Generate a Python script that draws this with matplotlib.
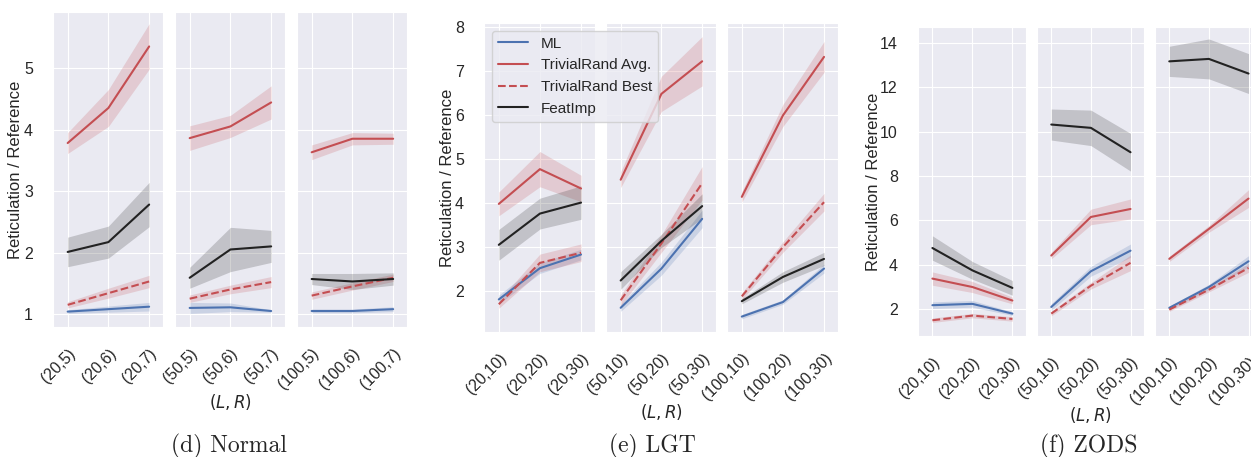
import matplotlib
matplotlib.use("Agg")
import matplotlib.pyplot as plt
import seaborn as sns

# x categories per panel, (L,R)
normal_ticks = [["(20,5)", "(20,6)", "(20,7)"],
                ["(50,5)", "(50,6)", "(50,7)"],
                ["(100,5)", "(100,6)", "(100,7)"]]
lgt_ticks = [["(20,10)", "(20,20)", "(20,30)"],
             ["(50,10)", "(50,20)", "(50,30)"],
             ["(100,10)", "(100,20)", "(100,30)"]]
zods_ticks = lgt_ticks

# Normal
normal_ml = [[1.04, 1.08, 1.12], [1.10, 1.11, 1.05], [1.05, 1.05, 1.08]]
normal_ml_err = [[0.03, 0.05, 0.07], [0.09, 0.07, 0.02], [0.03, 0.03, 0.04]]
normal_avg = [[3.78, 4.35, 5.35], [3.86, 4.05, 4.44], [3.63, 3.85, 3.85]]
normal_avg_err = [[0.17, 0.30, 0.37], [0.20, 0.18, 0.27], [0.12, 0.10, 0.09]]
normal_best = [[1.15, 1.34, 1.53], [1.25, 1.40, 1.52], [1.30, 1.45, 1.59]]
normal_best_err = [[0.05, 0.08, 0.10], [0.06, 0.07, 0.09], [0.06, 0.06, 0.06]]
normal_feat = [[2.01, 2.17, 2.78], [1.59, 2.05, 2.10], [1.57, 1.53, 1.57]]
normal_feat_err = [[0.24, 0.26, 0.36], [0.17, 0.36, 0.26], [0.09, 0.13, 0.10]]

# LGT
lgt_ml = [[1.81, 2.52, 2.83], [1.62, 2.51, 3.64], [1.42, 1.75, 2.51]]
lgt_ml_err = [[0.10, 0.12, 0.12], [0.08, 0.15, 0.20], [0.05, 0.05, 0.10]]
lgt_avg = [[3.98, 4.77, 4.33], [4.53, 6.48, 7.22], [4.14, 5.99, 7.32]]
lgt_avg_err = [[0.27, 0.40, 0.30], [0.18, 0.40, 0.56], [0.12, 0.25, 0.35]]
lgt_best = [[1.70, 2.64, 2.87], [1.79, 3.08, 4.45], [1.88, 3.00, 4.02]]
lgt_best_err = [[0.09, 0.20, 0.20], [0.12, 0.20, 0.38], [0.08, 0.12, 0.20]]
lgt_feat = [[3.05, 3.76, 4.01], [2.24, 3.14, 3.93], [1.77, 2.32, 2.73]]
lgt_feat_err = [[0.35, 0.35, 0.38], [0.20, 0.15, 0.28], [0.06, 0.12, 0.15]]

# ZODS
zods_ml = [[2.17, 2.23, 1.79], [2.09, 3.70, 4.63], [2.05, 2.99, 4.15]]
zods_ml_err = [[0.15, 0.15, 0.08], [0.15, 0.22, 0.30], [0.08, 0.12, 0.25]]
zods_avg = [[3.37, 2.99, 2.38], [4.41, 6.15, 6.51], [4.26, 5.61, 6.98]]
zods_avg_err = [[0.30, 0.25, 0.15], [0.15, 0.35, 0.45], [0.12, 0.15, 0.40]]
zods_best = [[1.49, 1.70, 1.55], [1.79, 3.05, 4.08], [1.97, 2.87, 3.85]]
zods_best_err = [[0.10, 0.10, 0.10], [0.10, 0.15, 0.35], [0.08, 0.10, 0.20]]
zods_feat = [[4.75, 3.74, 2.95], [10.32, 10.17, 9.07], [13.17, 13.28, 12.62]]
zods_feat_err = [[0.55, 0.40, 0.33], [0.70, 0.80, 0.85], [0.68, 0.90, 0.90]]

labels = ["ML", "TrivialRand Avg.", "TrivialRand Best", "FeatImp"]
colors = ["#4C72B0", "#C44E52", "#C44E52", "#222222"]
styles = ["-", "-", "--", "-"]

sns.set_style("darkgrid")
plt.rcParams["font.family"] = ["Liberation Sans", "DejaVu Sans"]

W, H = 1251, 457
fig = plt.figure(figsize=(W / 100, H / 100), dpi=100)


def px_axes(x0, x1, top, bot):
    return fig.add_axes([x0 / W, 1 - bot / H, (x1 - x0) / W, (bot - top) / H])


groups = [
    dict(ticks=normal_ticks, series=[(normal_ml, normal_ml_err), (normal_avg, normal_avg_err),
                                    (normal_best, normal_best_err), (normal_feat, normal_feat_err)],
         xs=[(53, 163), (175, 285), (297, 407)], top=12, bot=327, ylim=(0.79, 5.91),
         yticks=[1, 2, 3, 4, 5], ylab_x=16, xlab_y=402, cap="(d) Normal", cap_x=229),
    dict(ticks=lgt_ticks, series=[(lgt_ml, lgt_ml_err), (lgt_avg, lgt_avg_err),
                                 (lgt_best, lgt_best_err), (lgt_feat, lgt_feat_err)],
         xs=[(484, 595), (606, 716), (727, 838)], top=23, bot=332, ylim=(1.07, 8.09),
         yticks=[2, 3, 4, 5, 6, 7, 8], ylab_x=448, xlab_y=412, cap="(e) LGT", cap_x=652),
    dict(ticks=zods_ticks, series=[(zods_ml, zods_ml_err), (zods_avg, zods_avg_err),
                                  (zods_best, zods_best_err), (zods_feat, zods_feat_err)],
         xs=[(918, 1026), (1037, 1144), (1155, 1262)], top=27, bot=336, ylim=(0.78, 14.72),
         yticks=[2, 4, 6, 8, 10, 12, 14], ylab_x=873, xlab_y=415, cap="(f) ZODS", cap_x=1089),
]

for gi, g in enumerate(groups):
    for pi, (x0, x1) in enumerate(g["xs"]):
        ax = px_axes(x0, x1, g["top"], g["bot"])
        xs = range(3)
        for si, (mean, err) in enumerate(g["series"]):
            m = mean[pi]
            e = err[pi]
            lo = [a - b for a, b in zip(m, e)]
            hi = [a + b for a, b in zip(m, e)]
            ax.fill_between(xs, lo, hi, color=colors[si], alpha=0.2, linewidth=0)
            ax.plot(xs, m, color=colors[si], linestyle=styles[si], linewidth=1.5, label=labels[si])
        ax.set_xlim(-0.36, 2.34)
        ax.set_ylim(*g["ylim"])
        ax.set_yticks(g["yticks"])
        ax.set_xticks(list(xs))
        ax.set_xticklabels(g["ticks"][pi])
        ax.tick_params(axis="y", labelsize=11.5, pad=11)
        ax.tick_params(axis="x", labelsize=11.5, pad=10)
        plt.setp(ax.get_xticklabels(), rotation=45, ha="right", rotation_mode="anchor")
        if pi > 0:
            ax.tick_params(axis="y", labelleft=False)
        if gi == 1 and pi == 0:
            # legend spills over the next panel, so lift this axes above it
            ax.set_zorder(5)
            ax.legend(loc="upper left", fontsize=11, frameon=True, handlelength=2.0)
    yc = 1 - (g["top"] + g["bot"]) / 2 / H
    fig.text(g["ylab_x"] / W, yc, "Reticulation / Reference", rotation=90,
             ha="center", va="center", fontsize=12)
    xm = (g["xs"][1][0] + g["xs"][1][1]) / 2
    fig.text(xm / W, 1 - g["xlab_y"] / H, r"$(L, R)$", ha="center", va="center", fontsize=12)
    fig.text(g["cap_x"] / W, 1 - 446 / H, g["cap"], ha="center", va="center",
             fontsize=17, family="cmr10")

fig.savefig("out.png", dpi=100)
